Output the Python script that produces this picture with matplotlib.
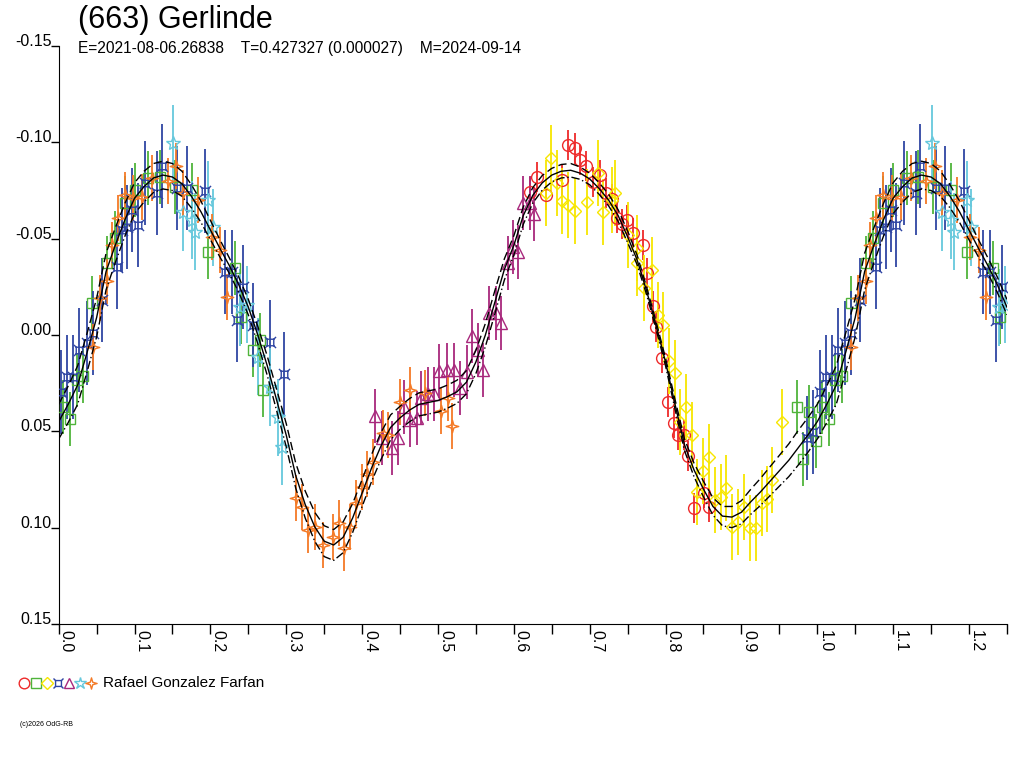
import numpy as np
import matplotlib
matplotlib.use("Agg")
import matplotlib.pyplot as plt
from matplotlib.path import Path

plt.rcParams["font.family"] = ["Liberation Sans", "DejaVu Sans"]

# --- fit curve (read every 0.0125 in phase, one period) ---
fit_phase = np.arange(0.0, 1.0, 0.0125)
fit_mag = [0.045, 0.036, 0.026, 0.009, -0.009, -0.033, -0.047, -0.060,
           -0.071, -0.077, -0.0815, -0.083, -0.082, -0.0785, -0.072, -0.064,
           -0.0545, -0.045, -0.036, -0.026, -0.0145, 0.000, 0.016, 0.034,
           0.052, 0.073, 0.088, 0.0995, 0.107, 0.109, 0.105, 0.095,
           0.082, 0.069, 0.0575, 0.048, 0.043, 0.039, 0.036, 0.035,
           0.034, 0.032, 0.0295, 0.0245, 0.014, 0.000, -0.017, -0.034,
           -0.0465, -0.062, -0.0725, -0.079, -0.083, -0.085, -0.0855, -0.084,
           -0.081, -0.076, -0.070, -0.062, -0.051, -0.039, -0.023, -0.005,
           0.014, 0.036, 0.057, 0.070, 0.080, 0.089, 0.094, 0.0945,
           0.092, 0.0865, 0.0815, 0.076, 0.0705, 0.065, 0.0585, 0.052]
fit_spread = [0.009, 0.0095, 0.010, 0.010, 0.010, 0.0095, 0.009, 0.0085,
              0.008, 0.008, 0.0075, 0.0072, 0.007, 0.0065, 0.006, 0.0055,
              0.005, 0.0045, 0.004, 0.004, 0.004, 0.0045, 0.005, 0.0055,
              0.006, 0.0065, 0.007, 0.0075, 0.008, 0.008, 0.008, 0.0075,
              0.007, 0.007, 0.007, 0.0065, 0.006, 0.006, 0.006, 0.006,
              0.006, 0.006, 0.006, 0.006, 0.006, 0.006, 0.006, 0.0055,
              0.005, 0.0045, 0.004, 0.0038, 0.0035, 0.0035, 0.0035, 0.0032,
              0.003, 0.003, 0.003, 0.003, 0.003, 0.0025, 0.002, 0.002,
              0.002, 0.0025, 0.003, 0.0035, 0.004, 0.0045, 0.005, 0.0055,
              0.006, 0.0065, 0.007, 0.0075, 0.008, 0.0085, 0.009, 0.009]

# --- sessions (phase, reduced magnitude) ---
red_phase = [0.621, 0.630, 0.642, 0.664, 0.672, 0.680, 0.687, 0.695, 0.704,
             0.713, 0.721, 0.729, 0.736, 0.742, 0.749, 0.757, 0.770, 0.776,
             0.783, 0.788, 0.795, 0.803, 0.811, 0.817, 0.824, 0.830, 0.837,
             0.851, 0.857]
red_mag = [-0.0742, -0.0820, -0.0727, -0.0804, -0.0986, -0.0970, -0.0908,
           -0.0877, -0.0794, -0.0830, -0.0737, -0.0706, -0.0607, -0.0576,
           -0.0597, -0.0529, -0.0467, -0.0322, -0.0150, -0.0042, 0.0119,
           0.0348, 0.0457, 0.0519, 0.0519, 0.0628, 0.0898, 0.0820, 0.0893]

green_phase = [0.006, 0.015, 0.024, 0.032, 0.044, 0.064, 0.074, 0.087, 0.100,
               0.118, 0.133, 0.153, 0.176, 0.197, 0.232, 0.241, 0.256, 0.265,
               0.269, 0.973, 0.981, 0.989, 0.998]
green_mag = [0.0374, 0.0436, 0.0234, 0.0213, -0.0166, -0.0374, -0.0503,
             -0.0685, -0.0753, -0.0815, -0.0820, -0.0768, -0.0753, -0.0431,
             -0.0348, -0.0093, 0.0078, 0.0026, 0.0285, 0.0374, 0.0643,
             0.0400, 0.0550]

yellow_phase = [0.643, 0.649, 0.657, 0.663, 0.671, 0.680, 0.696, 0.711, 0.718,
                0.729, 0.734, 0.750, 0.762, 0.763, 0.772, 0.782, 0.790, 0.796,
                0.804, 0.812, 0.819, 0.827, 0.835, 0.841, 0.850, 0.857, 0.865,
                0.873, 0.880, 0.887, 0.895, 0.903, 0.911, 0.919, 0.927, 0.934,
                0.941, 0.953]
yellow_mag = [-0.0737, -0.0919, -0.0789, -0.0695, -0.0675, -0.0643, -0.0690,
              -0.0841, -0.0638, -0.0701, -0.0737, -0.0519, -0.0451, -0.0374,
              -0.0244, -0.0337, -0.0104, -0.0052, 0.0135, 0.0197, 0.0451,
              0.0374, 0.0519, 0.0815, 0.0706, 0.0634, 0.0857, 0.0841, 0.0794,
              0.0997, 0.0971, 0.0893, 0.1002, 0.1002, 0.0872, 0.0851, 0.0753,
              0.0451]

blue_phase = [0.003, 0.011, 0.019, 0.027, 0.037, 0.045, 0.057, 0.077, 0.083,
              0.090, 0.097, 0.104, 0.114, 0.130, 0.136, 0.156, 0.169, 0.193,
              0.219, 0.228, 0.235, 0.243, 0.256, 0.278, 0.297, 0.987, 0.995]
blue_mag = [0.0296, 0.0218, 0.0218, 0.0078, 0.0042, -0.0010, -0.0182, -0.0353,
            -0.0545, -0.0560, -0.0649, -0.0571, -0.0789, -0.0737, -0.0877,
            -0.0763, -0.0763, -0.0747, -0.0327, -0.0327, -0.0078, -0.0249,
            -0.0052, 0.0036, 0.0202, 0.0535, 0.0503]

purple_phase = [0.417, 0.426, 0.439, 0.447, 0.455, 0.463, 0.472, 0.477, 0.487,
                0.495, 0.502, 0.512, 0.521, 0.529, 0.538, 0.545, 0.553, 0.559,
                0.567, 0.576, 0.583, 0.592, 0.599, 0.605, 0.612, 0.621, 0.626]
purple_mag = [0.0420, 0.0535, 0.0586, 0.0535, 0.0374, 0.0441, 0.0431, 0.0327,
              0.0306, 0.0306, 0.0187, 0.0182, 0.0182, 0.0275, 0.0192, 0.0005,
              0.0078, 0.0182, -0.0114, -0.0114, -0.0062, -0.0374, -0.0457,
              -0.0431, -0.0685, -0.0685, -0.0628]

cyan_phase = [0.151, 0.164, 0.176, 0.180, 0.197, 0.203, 0.239, 0.248, 0.263,
              0.278, 0.289, 0.294]
cyan_mag = [-0.0996, -0.0638, -0.0597, -0.0535, -0.0701, -0.0560, -0.0145,
            -0.0156, 0.0114, 0.0270, 0.0426, 0.0581]

orange_phase = [0.045, 0.054, 0.064, 0.070, 0.078, 0.087, 0.098, 0.110, 0.123,
                0.144, 0.155, 0.164, 0.184, 0.202, 0.213, 0.222, 0.313, 0.321,
                0.329, 0.338, 0.348, 0.361, 0.369, 0.376, 0.384, 0.392, 0.400,
                0.406, 0.414, 0.427, 0.434, 0.450, 0.463, 0.483, 0.504, 0.513,
                0.518]
orange_mag = [0.0062, -0.0192, -0.0280, -0.0467, -0.0607, -0.0727, -0.0711,
              -0.0716, -0.0815, -0.0799, -0.0877, -0.0737, -0.0701, -0.0509,
              -0.0441, -0.0197, 0.0846, 0.0893, 0.1012, 0.0996, 0.1090, 0.1048,
              0.0976, 0.1105, 0.0996, 0.0872, 0.0789, 0.0721, 0.0659, 0.0509,
              0.0519, 0.0348, 0.0285, 0.0301, 0.0394, 0.0327, 0.0472]

# typical error bar (half length) per session
session_err = [0.008, 0.014, 0.017, 0.022, 0.014, 0.020, 0.012]

# --- custom marker shapes ---
sq_horn = Path(
    [(-0.5, -0.5), (0.5, -0.5), (0.5, 0.5), (-0.5, 0.5), (-0.5, -0.5),
     (-0.5, -0.5), (-0.85, -0.85), (0.5, -0.5), (0.85, -0.85),
     (0.5, 0.5), (0.85, 0.85), (-0.5, 0.5), (-0.85, 0.85)],
    [Path.MOVETO, Path.LINETO, Path.LINETO, Path.LINETO, Path.CLOSEPOLY,
     Path.MOVETO, Path.LINETO, Path.MOVETO, Path.LINETO,
     Path.MOVETO, Path.LINETO, Path.MOVETO, Path.LINETO])
star4 = Path(
    [(0, 1), (0.22, 0.22), (1, 0), (0.22, -0.22), (0, -1), (-0.22, -0.22),
     (-1, 0), (-0.22, 0.22), (0, 1)],
    [Path.MOVETO] + [Path.LINETO] * 7 + [Path.CLOSEPOLY])

sessions = [
    (red_phase, red_mag, "#ee2a2a", "o", 8.5),
    (green_phase, green_mag, "#4fb43a", "s", 7.5),
    (yellow_phase, yellow_mag, "#f7e600", "D", 6.5),
    (blue_phase, blue_mag, "#2f45a3", sq_horn, 8),
    (purple_phase, purple_mag, "#a8287c", "^", 8.5),
    (cyan_phase, cyan_mag, "#66c8dc", "*", 10),
    (orange_phase, orange_mag, "#f47a26", star4, 9),
]

fig = plt.figure(figsize=(10.24, 7.68), dpi=100)
ax = fig.add_axes([0.0573, 0.1875, 0.926, 0.7526])

for (ph, mg, col, mk, ms), err in zip(sessions, session_err):
    ph = np.array(ph)
    mg = np.array(mg)
    wrap = ph <= 0.25
    ph_all = np.concatenate([ph, ph[wrap] + 1.0])
    mg_all = np.concatenate([mg, mg[wrap]])
    ax.vlines(ph_all, mg_all - err, mg_all + err, color=col, lw=1.3, zorder=2)
    ax.plot(ph_all, mg_all, ls="none", marker=mk, ms=ms, mfc="none",
            mec=col, mew=1.0, zorder=3)

# fit curve over 1.25 cycles
fit_mag = np.array(fit_mag)
fit_spread = np.array(fit_spread)
nwrap = 21
cx = np.concatenate([fit_phase, fit_phase[:nwrap] + 1.0])
cy = np.concatenate([fit_mag, fit_mag[:nwrap]])
cs = np.concatenate([fit_spread, fit_spread[:nwrap]])
ax.plot(cx, cy, color="black", lw=1.0, zorder=4)
ax.plot(cx, cy - cs, color="black", lw=1.0, ls=(0, (6, 3)), zorder=4)
ax.plot(cx, cy + cs, color="black", lw=1.0, ls=(0, (6, 2, 1, 2)), zorder=4)

ax.set_xlim(0.0, 1.25)
ax.set_ylim(0.15, -0.15)
for s in ["top", "right"]:
    ax.spines[s].set_visible(False)

yt = [-0.15, -0.10, -0.05, 0.0, 0.05, 0.10, 0.15]
ax.set_yticks(yt)
ax.set_yticklabels([f"{v:.2f}" for v in yt])
ax.tick_params(axis="y", direction="out", length=6, width=1, pad=-1,
               labelsize=11.5)
for lab in ax.get_yticklabels():
    lab.set_verticalalignment("baseline")

xt = np.arange(0.0, 1.21, 0.1)
ax.set_xticks(xt)
ax.set_xticklabels([f"{v:.1f}" for v in xt], rotation=-90)
ax.set_xticks(np.arange(0.05, 1.26, 0.1), minor=True)
ax.tick_params(axis="x", which="both", direction="out", length=7, width=1,
               pad=-3, labelsize=11.5)
for lab in ax.get_xticklabels():
    lab.set_horizontalalignment("left")
    lab.set_verticalalignment("top")

fig.text(78 / 1024, 1 - 20 / 768, "(663) Gerlinde", fontsize=22,
         va="center", ha="left")
fig.text(78 / 1024, 1 - 48 / 768,
         "E=2021-08-06.26838    T=0.427327 (0.000027)    M=2024-09-14",
         fontsize=11.2, va="center", ha="left")

# legend row
leg_x = [24, 36, 47, 58, 69, 80, 91]
for (ph, mg, col, mk, ms), lx in zip(sessions, leg_x):
    ax.plot([lx / 1024], [1 - 683 / 768], transform=fig.transFigure,
            clip_on=False, ls="none", marker=mk, ms=ms * 0.9, mfc="none",
            mec=col, mew=1.0)
fig.text(103 / 1024, 1 - 683 / 768, "Rafael Gonzalez Farfan", fontsize=11,
         va="center", ha="left")
fig.text(20 / 1024, 1 - 724 / 768, "(c)2026 OdG-RB", fontsize=5,
         va="center", ha="left")

fig.savefig("out.png", dpi=100)
